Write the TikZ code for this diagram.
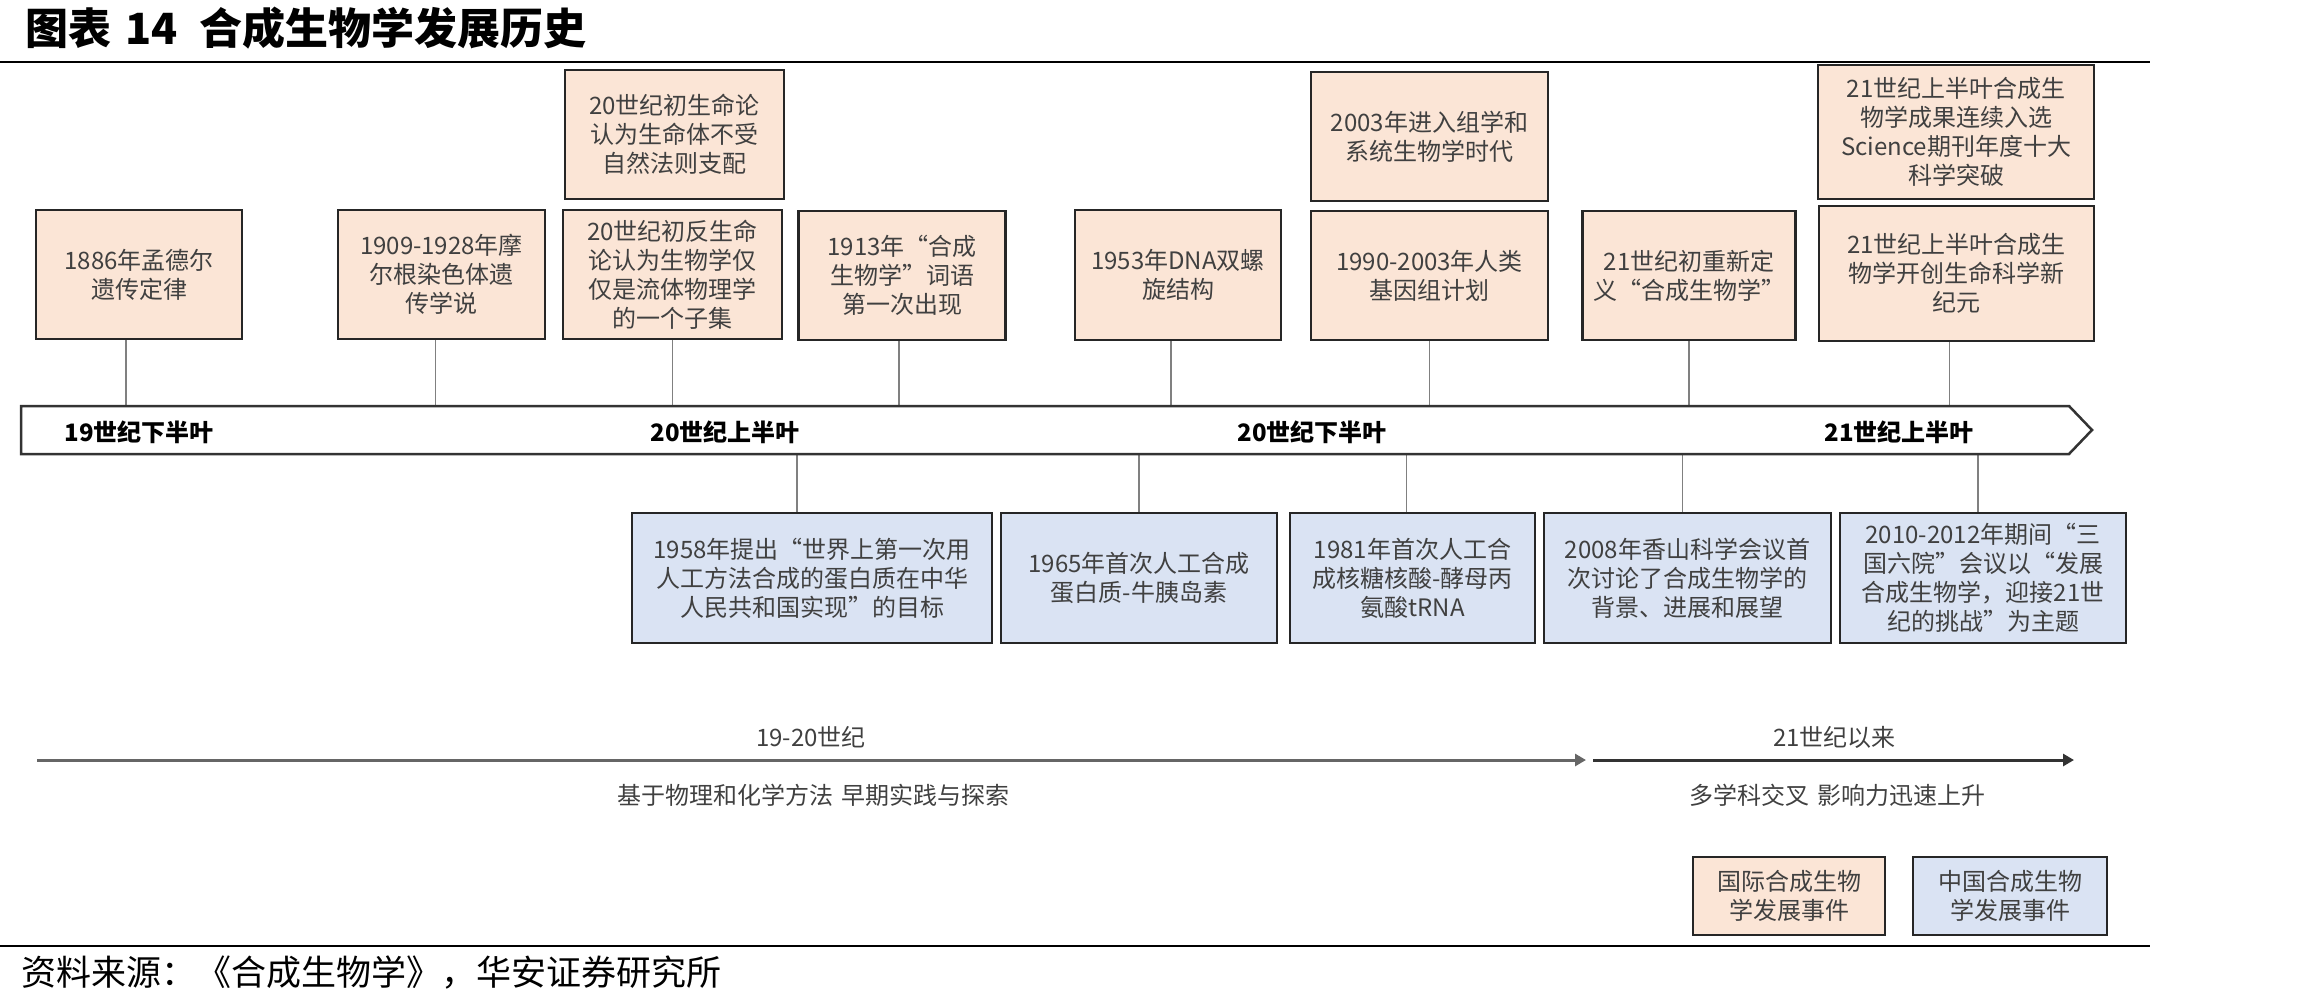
\documentclass[tikz,border=0pt]{standalone}
\usepackage{fontspec}
\setmainfont{Noto Sans CJK SC}
\usetikzlibrary{arrows.meta}
\definecolor{intl}{HTML}{FBE5D6}
\definecolor{cn}{HTML}{DAE3F3}
\definecolor{ink}{HTML}{404040}

\begin{document}
\begin{tikzpicture}[x=1pt,y=-1pt,
  event/.style={draw=black!85,line width=2.5pt,inner sep=0pt,align=center,text=ink,
    font=\fontsize{24}{29}\selectfont},
  intlbox/.style={event,fill=intl},
  cnbox/.style={event,fill=cn},
  tie/.style={draw=black!50,line width=1.5pt},
  era/.style={font=\bfseries\fontsize{24}{29}\selectfont},
  phase/.style={text=ink,font=\fontsize{24}{29}\selectfont}]
\useasboundingbox (0,0) rectangle (2309,1004);

\node[anchor=west,font=\bfseries\fontsize{43}{50}\selectfont] (title) at (22,28)
  {图表\hspace{14pt}14\hspace{22pt}合成生物学发展历史};
\draw[line width=2.5pt] (0,62) -- (2150,62);

% international events, above the band
\node[intlbox,minimum width=206pt,minimum height=129pt] (a1) at (139,274.5) {1886年孟德尔\\遗传定律};
\node[intlbox,minimum width=207pt,minimum height=129pt] (a2) at (441.5,274.5) {1909-1928年摩\\尔根染色体遗\\传学说};
\node[intlbox,minimum width=219pt,minimum height=129pt] (a3up) at (674.5,134.5) {20世纪初生命论\\认为生命体不受\\自然法则支配};
\node[intlbox,minimum width=219pt,minimum height=129pt] (a3) at (672.5,274.5) {20世纪初反生命\\论认为生物学仅\\仅是流体物理学\\的一个子集};
\node[intlbox,minimum width=207pt,minimum height=129pt] (a4) at (902,275.5) {1913年“合成\\生物学”词语\\第一次出现};
\node[intlbox,minimum width=206pt,minimum height=130pt] (a5) at (1178,275) {1953年DNA双螺\\旋结构};
\node[intlbox,minimum width=237pt,minimum height=129pt] (a6up) at (1429.5,136.5) {2003年进入组学和\\系统生物学时代};
\node[intlbox,minimum width=237pt,minimum height=129pt] (a6) at (1429.5,275.5) {1990-2003年人类\\基因组计划};
\node[intlbox,minimum width=213pt,minimum height=129pt] (a7) at (1689,275.5) {21世纪初重新定\\义“合成生物学”};
\node[intlbox,minimum width=276pt,minimum height=134pt] (a8up) at (1956,132) {21世纪上半叶合成生\\物学成果连续入选\\Science期刊年度十大\\科学突破};
\node[intlbox,minimum width=275pt,minimum height=135pt] (a8) at (1956.5,273.5) {21世纪上半叶合成生\\物学开创生命科学新\\纪元};

% chinese events, below the band
\node[cnbox,minimum width=360pt,minimum height=130pt] (b1) at (812,578) {1958年提出“世界上第一次用\\人工方法合成的蛋白质在中华\\人民共和国实现”的目标};
\node[cnbox,minimum width=276pt,minimum height=130pt] (b2) at (1139,578) {1965年首次人工合成\\蛋白质-牛胰岛素};
\node[cnbox,minimum width=245pt,minimum height=130pt] (b3) at (1412.5,578) {1981年首次人工合\\成核糖核酸-酵母丙\\氨酸tRNA};
\node[cnbox,minimum width=287pt,minimum height=130pt] (b4) at (1687.5,578) {2008年香山科学会议首\\次讨论了合成生物学的\\背景、进展和展望};
\node[cnbox,minimum width=286pt,minimum height=130pt] (b5) at (1983,578) {2010-2012年期间“三\\国六院”会议以“发展\\合成生物学，迎接21世\\纪的挑战”为主题};

\coordinate (bandN) at (0,406);
\coordinate (bandS) at (0,454);
\draw[tie] ([xshift=-13pt]a1.south) -- ([xshift=-13pt]a1.south |- bandN);
\draw[tie] ([xshift=-6pt]a2.south) -- ([xshift=-6pt]a2.south |- bandN);
\draw[tie] (a3.south) -- (a3.south |- bandN);
\draw[tie] ([xshift=-3pt]a4.south) -- ([xshift=-3pt]a4.south |- bandN);
\draw[tie] ([xshift=-7pt]a5.south) -- ([xshift=-7pt]a5.south |- bandN);
\draw[tie] (a6.south) -- (a6.south |- bandN);
\draw[tie] (a7.south) -- (a7.south |- bandN);
\draw[tie] ([xshift=-7pt]a8.south) -- ([xshift=-7pt]a8.south |- bandN);
\draw[tie] ([xshift=-15pt]b1.north) -- ([xshift=-15pt]b1.north |- bandS);
\draw[tie] (b2.north) -- (b2.north |- bandS);
\draw[tie] ([xshift=-6pt]b3.north) -- ([xshift=-6pt]b3.north |- bandS);
\draw[tie] ([xshift=-5pt]b4.north) -- ([xshift=-5pt]b4.north |- bandS);
\draw[tie] ([xshift=-5pt]b5.north) -- ([xshift=-5pt]b5.north |- bandS);

\draw[line width=2.5pt,draw=black!80,fill=white,line join=miter]
  (21,406) -- (2069,406) -- (2092,430) -- (2069,454) -- (21,454) -- cycle;
\node[era] (e19b) at (139,432) {19世纪下半叶};
\node[era] (e20a) at (725,432) {20世纪上半叶};
\node[era] (e20b) at (1312,432) {20世纪下半叶};
\node[era] (e21a) at (1899,432) {21世纪上半叶};

% the two stages
\coordinate (early0) at (37,760);
\coordinate (early1) at (1586,760);
\coordinate (late0) at (1593,760);
\coordinate (late1) at (2074,760);
\draw[line width=3pt,black!60,-{Triangle[length=11pt,width=12pt]}] (early0) -- (early1);
\draw[line width=3pt,black!80,-{Triangle[length=11pt,width=12pt]}] (late0) -- (late1);
\node[phase] (p1top) at (811,737) {19-20世纪};
\node[phase] (p1low) at (813,795) {基于物理和化学方法\hspace{8pt}早期实践与探索};
\node[phase] (p2top) at (1834.5,737) {21世纪以来};
\node[phase] (p2low) at (1837,795) {多学科交叉\hspace{8pt}影响力迅速上升};

\node[intlbox,minimum width=192pt,minimum height=78pt] (key1) at (1789,896) {国际合成生物\\学发展事件};
\node[cnbox,minimum width=194pt,minimum height=78pt] (key2) at (2010,896) {中国合成生物\\学发展事件};

\draw[line width=2.5pt] (0,946) -- (2150,946);
\node[anchor=west,font=\fontsize{35}{40}\selectfont] (source) at (18,972) {资料来源：《合成生物学》，华安证券研究所};
\end{tikzpicture}
\end{document}
